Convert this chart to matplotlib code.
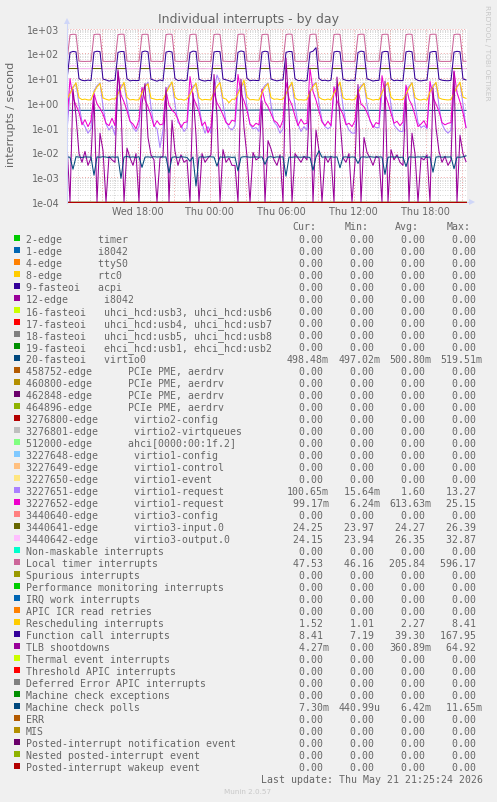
import numpy as np
import matplotlib
matplotlib.use("Agg")
import matplotlib.pyplot as plt
from matplotlib.lines import Line2D
from matplotlib.patches import Rectangle

# ---------------------------------------------------------------------------
# data: 15 minute samples, hours counted from Wed 00:00
# ---------------------------------------------------------------------------
t_start = 12.125
step = 0.25
hours = [t_start + step * k for k in range(134)]

local_timer = [
	47.9, 560, 585, 577, 48.3, 47.1, 46.8, 47.4,
	47.0, 571, 588, 582, 47.6, 46.6, 47.2, 46.9,
	46.9, 566, 590, 584, 48.0, 47.3, 46.5, 47.1,
	47.2, 574, 586, 579, 47.8, 46.9, 47.5, 46.7,
	46.8, 569, 592, 581, 48.1, 47.0, 46.6, 47.3,
	47.4, 563, 587, 583, 47.5, 46.8, 47.2, 46.9,
	47.1, 572, 589, 578, 47.9, 47.4, 46.7, 47.0,
	46.7, 575, 593, 585, 48.4, 46.9, 47.3, 47.2,
	47.3, 566, 584, 580, 47.7, 47.1, 46.16, 47.5,
	47.0, 570, 596.17, 582, 48.0, 46.8, 47.4, 46.9,
	47.5, 568, 591, 586, 48.2, 47.2, 46.9, 47.1,
	46.9, 573, 588, 579, 47.6, 47.0, 47.3, 46.6,
	47.2, 565, 590, 583, 48.1, 46.7, 47.1, 47.4,
	47.0, 571, 587, 581, 47.8, 47.3, 46.8, 47.0,
	46.8, 569, 592, 577, 47.9, 47.1, 47.4, 46.9,
	47.3, 574, 589, 584, 48.0, 46.9, 47.2, 47.1,
	47.1, 567, 591, 580, 47.8, 47.53,
]

function_call = [
	8.6, 108, 119, 114, 9.4, 8.1, 7.8, 8.3,
	7.9, 112, 121, 116, 9.1, 8.4, 7.6, 8.0,
	8.2, 109, 118, 117, 9.3, 7.7, 8.1, 7.9,
	8.0, 114, 123, 115, 9.0, 8.2, 7.5, 8.4,
	7.7, 111, 120, 113, 9.5, 7.9, 8.3, 7.8,
	8.3, 107, 122, 118, 8.9, 8.0, 7.6, 8.1,
	7.8, 113, 119, 116, 9.2, 8.5, 7.9, 7.19,
	8.1, 110, 124, 116, 9.7, 7.8, 8.2, 8.0,
	7.9, 112, 121, 115, 9.1, 8.3, 7.7, 8.2,
	8.4, 109, 118, 117, 9.4, 7.9, 8.1, 7.6,
	8.0, 110, 121, 167.95, 9.6, 7.9, 8.2, 7.7,
	8.2, 113, 120, 114, 9.0, 8.1, 7.8, 8.3,
	7.8, 108, 122, 116, 9.3, 8.4, 7.6, 8.0,
	8.1, 111, 119, 117, 9.2, 7.8, 8.2, 7.9,
	7.9, 114, 121, 115, 9.5, 8.0, 7.7, 8.1,
	8.3, 110, 118, 118, 9.1, 8.2, 7.9, 7.8,
	8.1, 112, 120, 115, 9.2, 8.41,
]

rescheduling = [
	1.38, 2.4, 4.1, 6.5, 1.62, 1.35, 1.42, 1.31,
	1.33, 2.7, 4.4, 6.1, 1.58, 1.40, 1.29, 1.45,
	1.41, 2.3, 3.9, 6.8, 1.66, 1.32, 1.37, 1.30,
	1.35, 2.6, 4.5, 5.9, 1.55, 1.44, 1.33, 1.39,
	1.29, 2.5, 4.2, 7.1, 1.71, 1.36, 1.41, 1.28,
	1.43, 2.2, 3.8, 6.3, 1.60, 1.30, 1.38, 1.34,
	1.32, 2.8, 4.6, 6.6, 1.57, 1.42, 1.01, 1.40,
	1.39, 2.4, 4.0, 8.41, 1.75, 1.33, 1.36, 1.31,
	1.30, 2.6, 4.3, 6.0, 1.63, 1.39, 1.44, 1.35,
	1.42, 2.3, 4.1, 6.9, 1.59, 1.31, 1.34, 1.29,
	1.36, 2.7, 4.4, 6.4, 1.68, 1.40, 1.32, 1.43,
	1.31, 2.5, 3.9, 7.0, 1.61, 1.35, 1.41, 1.30,
	1.40, 2.4, 4.2, 6.2, 1.56, 1.43, 1.29, 1.37,
	1.34, 2.6, 4.5, 6.7, 1.70, 1.32, 1.38, 1.33,
	1.38, 2.2, 4.0, 6.5, 1.64, 1.36, 1.30, 1.42,
	1.29, 2.8, 4.3, 6.8, 1.58, 1.41, 1.35, 1.31,
	1.36, 2.5, 4.3, 6.9, 1.70, 1.52,
]

virtio1_req_a = [
	0.07, 2.6, 4.4, 5.8, 0.85, 0.17, 0.11, 0.06,
	0.09, 3.1, 4.9, 6.4, 0.72, 0.14, 0.08, 0.12,
	0.05, 2.9, 5.2, 5.5, 0.95, 0.19, 0.10, 0.07,
	0.11, 3.4, 4.6, 6.9, 0.68, 0.12, 0.09, 0.0156,
	0.08, 2.7, 5.0, 6.1, 0.88, 0.16, 0.13, 0.07,
	0.10, 3.2, 4.7, 5.7, 0.76, 0.15, 0.06, 0.11,
	0.06, 2.8, 13.27, 6.6, 0.91, 0.18, 0.10, 0.08,
	0.12, 3.0, 4.8, 5.9, 0.70, 0.13, 0.09, 0.10,
	0.07, 3.3, 5.1, 6.3, 0.83, 0.17, 0.12, 0.06,
	0.09, 2.6, 4.5, 5.6, 0.79, 0.14, 0.07, 0.11,
	0.08, 3.1, 5.3, 6.8, 0.94, 0.20, 0.11, 0.09,
	0.11, 2.9, 4.6, 6.0, 0.74, 0.15, 0.08, 0.06,
	0.06, 3.5, 4.9, 6.2, 0.86, 0.18, 0.12, 0.10,
	0.10, 2.7, 5.0, 5.8, 0.81, 0.13, 0.09, 0.07,
	0.07, 3.0, 4.7, 6.5, 0.90, 0.16, 0.10, 0.12,
	0.09, 3.2, 5.2, 6.1, 0.77, 0.14, 0.08, 0.06,
	0.08, 2.8, 4.8, 5.9, 0.88, 0.10065,
]

virtio1_req_b = [
	0.16, 9.5, 1.6, 0.8, 0.42, 0.13, 0.21, 0.11,
	0.19, 2.4, 0.9, 0.6, 0.35, 0.15, 0.12, 0.24,
	0.12, 18.0, 2.1, 1.1, 0.48, 0.18, 0.14, 0.09,
	0.21, 4.2, 1.3, 0.7, 0.31, 0.11, 0.19, 0.13,
	0.14, 3.1, 0.8, 0.5, 0.39, 0.22, 0.10, 0.16,
	0.17, 11.5, 1.8, 0.9, 0.44, 0.12, 0.17, 0.0624,
	0.11, 2.7, 1.0, 0.6, 0.33, 0.16, 0.13, 0.20,
	0.18, 14.0, 2.4, 1.2, 0.51, 0.14, 0.11, 0.15,
	0.13, 3.6, 1.1, 0.7, 0.37, 0.19, 0.16, 0.10,
	0.20, 6.8, 1.5, 0.8, 0.29, 0.12, 0.22, 0.14,
	0.15, 25.15, 2.9, 1.3, 0.46, 0.17, 0.12, 0.18,
	0.12, 4.5, 1.2, 0.6, 0.34, 0.13, 0.15, 0.11,
	0.19, 3.3, 0.9, 0.7, 0.41, 0.20, 0.10, 0.16,
	0.14, 12.5, 2.2, 1.0, 0.38, 0.15, 0.18, 0.12,
	0.17, 5.2, 1.4, 0.8, 0.32, 0.11, 0.14, 0.19,
	0.10, 7.4, 1.7, 0.9, 0.45, 0.16, 0.13, 0.15,
	0.16, 19.5, 2.6, 1.1, 0.40, 0.09917,
]

tlb_shootdowns = [
	0.021, 0.0, 3.5, 0.3, 0.009, 0.004, 0.011, 0.003,
	0.006, 1.8, 0.0, 0.06, 0.012, 0.0, 0.007, 0.005,
	0.004, 22.0, 0.8, 0.0, 0.015, 0.006, 0.003, 0.009,
	0.0, 0.9, 6.0, 0.04, 0.008, 0.005, 0.0, 0.006,
	0.007, 4.2, 0.0, 0.2, 0.011, 0.003, 0.008, 0.004,
	0.005, 0.0, 2.5, 0.05, 0.0, 0.009, 0.004, 0.006,
	0.008, 14.0, 0.3, 0.0, 0.013, 0.004, 0.006, 0.003,
	0.003, 0.0, 9.0, 0.1, 0.007, 0.0, 0.010, 0.005,
	0.006, 1.2, 0.0, 0.03, 0.014, 0.005, 0.003, 0.008,
	0.0, 64.92, 0.5, 0.0, 0.009, 0.006, 0.004, 0.007,
	0.005, 3.0, 0.0, 0.08, 0.012, 0.0, 0.007, 0.004,
	0.007, 0.0, 11.0, 0.2, 0.006, 0.004, 0.009, 0.0,
	0.004, 5.5, 0.0, 0.04, 0.010, 0.006, 0.003, 0.007,
	0.006, 0.0, 7.5, 0.0, 0.013, 0.005, 0.008, 0.004,
	0.003, 2.2, 0.0, 0.06, 0.009, 0.0, 0.006, 0.005,
	0.008, 0.0, 4.0, 0.1, 0.011, 0.004, 0.007, 0.003,
	0.005, 18.0, 0.0, 0.05, 0.009, 0.00427,
]

mce_polls = [
	0.0066, 0.0064, 0.0021, 0.0067, 0.0065, 0.0063, 0.0066, 0.0065,
	0.0065, 0.0012, 0.0066, 0.0064, 0.0067, 0.0065, 0.0062, 0.0066,
	0.0064, 0.0066, 0.0009, 0.0065, 0.0068, 0.0064, 0.0066, 0.0063,
	0.0067, 0.0025, 0.0065, 0.0066, 0.0064, 0.0067, 0.0065, 0.0066,
	0.0065, 0.0066, 0.0015, 0.0064, 0.0066, 0.0063, 0.0067, 0.0065,
	0.0063, 0.0044, 0.0066, 0.00044, 0.0065, 0.0066, 0.0064, 0.0067,
	0.0066, 0.0065, 0.0028, 0.0066, 0.0064, 0.0065, 0.0066, 0.0063,
	0.0065, 0.0018, 0.0064, 0.0067, 0.0066, 0.0064, 0.0065, 0.0066,
	0.0064, 0.0066, 0.0033, 0.0065, 0.0067, 0.0063, 0.0066, 0.0065,
	0.0066, 0.0011, 0.0065, 0.0064, 0.0066, 0.0065, 0.0064, 0.0066,
	0.0065, 0.0063, 0.0019, 0.0066, 0.01165, 0.0064, 0.0066, 0.0065,
	0.0067, 0.0064, 0.0066, 0.0024, 0.0065, 0.0066, 0.0063, 0.0066,
	0.0064, 0.0036, 0.0065, 0.0066, 0.0064, 0.0067, 0.0065, 0.0064,
	0.0066, 0.0065, 0.0013, 0.0064, 0.0066, 0.0065, 0.0066, 0.0063,
	0.0065, 0.0027, 0.0066, 0.0065, 0.0064, 0.0066, 0.0065, 0.0067,
	0.0063, 0.0066, 0.0016, 0.0065, 0.0067, 0.0064, 0.0066, 0.0065,
	0.0066, 0.0022, 0.0065, 0.0064, 0.0066, 0.0073,
]

virtio3_output = [
	24.1, 30.5, 32.0, 31.2, 24.3, 24.1, 24.2, 24.1,
	24.2, 30.8, 31.7, 31.0, 24.2, 24.0, 24.1, 24.2,
	24.1, 30.2, 32.3, 31.4, 24.4, 24.1, 24.2, 24.0,
	24.2, 31.0, 31.9, 30.9, 24.3, 24.2, 24.1, 24.1,
	24.0, 30.6, 32.1, 31.3, 24.2, 24.1, 24.2, 24.2,
	24.1, 30.4, 31.8, 31.1, 24.3, 23.94, 24.1, 24.1,
	24.2, 30.9, 32.87, 31.5, 24.2, 24.1, 24.2, 24.0,
	24.1, 30.3, 32.0, 31.2, 24.4, 24.2, 24.1, 24.2,
	24.2, 30.7, 31.6, 30.8, 24.3, 24.1, 24.2, 24.1,
	24.1, 30.5, 32.2, 31.4, 24.2, 24.0, 24.1, 24.2,
	24.0, 31.1, 32.4, 31.0, 24.3, 24.2, 24.2, 24.1,
	24.2, 30.6, 31.9, 31.3, 24.2, 24.1, 24.1, 24.0,
	24.1, 30.8, 32.1, 31.1, 24.4, 24.2, 24.2, 24.2,
	24.2, 30.4, 31.7, 30.9, 24.3, 24.1, 24.1, 24.1,
	24.1, 30.9, 32.3, 31.5, 24.2, 24.0, 24.2, 24.2,
	24.0, 30.5, 32.0, 31.2, 24.3, 24.2, 24.1, 24.1,
	24.2, 30.7, 31.8, 31.0, 24.2, 24.15,
]

# nearly flat series, a few samples are enough
flat_hours = [12.125, 18.0, 24.0, 30.0, 36.0, 42.0, 45.375]
virtio0 = [0.499, 0.501, 0.498, 0.519, 0.500, 0.498, 0.49848]
virtio3_input = [24.3, 24.2, 24.25, 24.3, 24.2, 24.27, 24.25]

# legend rows of the munin graph
names = [
	"2-edge      timer", "1-edge      i8042", "4-edge      ttyS0",
	"8-edge      rtc0", "9-fasteoi   acpi", "12-edge      i8042",
	"16-fasteoi   uhci_hcd:usb3, uhci_hcd:usb6",
	"17-fasteoi   uhci_hcd:usb4, uhci_hcd:usb7",
	"18-fasteoi   uhci_hcd:usb5, uhci_hcd:usb8",
	"19-fasteoi   ehci_hcd:usb1, ehci_hcd:usb2",
	"20-fasteoi   virtio0",
	"458752-edge      PCIe PME, aerdrv", "460800-edge      PCIe PME, aerdrv",
	"462848-edge      PCIe PME, aerdrv", "464896-edge      PCIe PME, aerdrv",
	"3276800-edge      virtio2-config", "3276801-edge      virtio2-virtqueues",
	"512000-edge      ahci[0000:00:1f.2]",
	"3227648-edge      virtio1-config", "3227649-edge      virtio1-control",
	"3227650-edge      virtio1-event", "3227651-edge      virtio1-request",
	"3227652-edge      virtio1-request", "3440640-edge      virtio3-config",
	"3440641-edge      virtio3-input.0", "3440642-edge      virtio3-output.0",
	"Non-maskable interrupts", "Local timer interrupts", "Spurious interrupts",
	"Performance monitoring interrupts", "IRQ work interrupts",
	"APIC ICR read retries", "Rescheduling interrupts",
	"Function call interrupts", "TLB shootdowns", "Thermal event interrupts",
	"Threshold APIC interrupts", "Deferred Error APIC interrupts",
	"Machine check exceptions", "Machine check polls", "ERR", "MIS",
	"Posted-interrupt notification event", "Nested posted-interrupt event",
	"Posted-interrupt wakeup event",
]

# cur, min, avg, max for the non-zero rows (all others are 0)
stats = {
	"20-fasteoi   virtio0": (0.49848, 0.49702, 0.50080, 0.51951),
	"3227651-edge      virtio1-request": (0.10065, 0.01564, 1.60, 13.27),
	"3227652-edge      virtio1-request": (0.09917, 0.00624, 0.61363, 25.15),
	"3440641-edge      virtio3-input.0": (24.25, 23.97, 24.27, 26.39),
	"3440642-edge      virtio3-output.0": (24.15, 23.94, 26.35, 32.87),
	"Local timer interrupts": (47.53, 46.16, 205.84, 596.17),
	"Rescheduling interrupts": (1.52, 1.01, 2.27, 8.41),
	"Function call interrupts": (8.41, 7.19, 39.30, 167.95),
	"TLB shootdowns": (0.00427, 0.0, 0.36089, 64.92),
	"Machine check polls": (0.0073, 0.00044099, 0.00642, 0.01165),
}

# munin default palette, in legend order
colors = [
	"#00CC00", "#0066B3", "#FF8000", "#FFCC00", "#330099", "#990099",
	"#CCFF00", "#FF0000", "#808080", "#008F00", "#00487D", "#B35A00",
	"#B38F00", "#6B006B", "#8FB300", "#B30000", "#BEBEBE", "#80FF80",
	"#80C9FF", "#FFC080", "#FFE680", "#AA80FF", "#EE00CC", "#FF8080",
	"#666600", "#FFBFFF", "#00FFCC", "#CC6699", "#999900",
	"#00CC00", "#0066B3", "#FF8000", "#FFCC00", "#330099", "#990099",
	"#CCFF00", "#FF0000", "#808080", "#008F00", "#00487D", "#B35A00",
	"#B38F00", "#6B006B", "#8FB300", "#B30000",
]

series = {
	"20-fasteoi   virtio0": (flat_hours, virtio0),
	"3227651-edge      virtio1-request": (hours, virtio1_req_a),
	"3227652-edge      virtio1-request": (hours, virtio1_req_b),
	"3440641-edge      virtio3-input.0": (flat_hours, virtio3_input),
	"3440642-edge      virtio3-output.0": (hours, virtio3_output),
	"Local timer interrupts": (hours, local_timer),
	"Rescheduling interrupts": (hours, rescheduling),
	"Function call interrupts": (hours, function_call),
	"TLB shootdowns": (hours, tlb_shootdowns),
	"Machine check polls": (hours, mce_polls),
}

xtick_hours = [18, 24, 30, 36, 42]
xtick_labels = ["Wed 18:00", "Thu 00:00", "Thu 06:00", "Thu 12:00", "Thu 18:00"]

# ---------------------------------------------------------------------------
W, H = 497, 803
FONT = "#666666"
MONO = "DejaVu Sans Mono"

def fx(x):
	return x / W

def fy(y):
	return 1.0 - y / H

def si(v):
	if v == 0:
		return "%6.2f " % 0.0
	for f, p in ((1.0, " "), (1e-3, "m"), (1e-6, "u")):
		if abs(v) >= f:
			return "%6.2f%s" % (v / f, p)
	return "%6.2f " % v

fig = plt.figure(figsize=(W / 100, H / 100), dpi=100, facecolor="#F0F0F0")

left, right, top, bottom = 67, 467, 29.5, 203.5
ax = fig.add_axes([fx(left), fy(bottom), (right - left) / W, (bottom - top) / H])
ax.set_facecolor("white")
ax.set_yscale("log")
ymin, ymax = 1e-4, 1e3
# floor sits half a pixel above the bottom edge, as rrdtool draws it
ax.set_ylim(10 ** -4.02, ymax)
ax.set_xlim(t_start, t_start + (right - left) / 12.0)

# grid, rrdtool style (light dotted)
minor_c = (0.56, 0.56, 0.56, 0.5)
major_c = (0.87, 0.31, 0.31, 0.5)
dots = (0, (1, 2))
for e in range(-4, 3):
	for m in range(2, 10):
		ax.axhline(m * 10.0 ** e, color=minor_c, lw=0.6, ls=dots, zorder=0.5)
for e in range(-4, 4):
	ax.axhline(10.0 ** e, color=major_c, lw=0.7, ls=dots, zorder=0.6)
for h in range(13, 46):
	if h % 3 == 0:
		ax.axvline(h, color=major_c, lw=0.7, ls=dots, zorder=0.6)
	else:
		ax.axvline(h, color=minor_c, lw=0.6, ls=dots, zorder=0.5)

# series, in legend order (last drawn on top), zero values sit on the floor
for name, col in zip(names, colors):
	if name in series:
		xs, ys = series[name]
	else:
		xs, ys = hours, np.zeros(len(hours))
	ys = np.maximum(np.asarray(ys, dtype=float), ymin)
	ax.plot(xs, ys, color=col, lw=0.75, zorder=2)

ax.set_yticks([10.0 ** e for e in range(-4, 4)])
ax.set_yticklabels(["1e-04", "1e-03", "1e-02", "1e-01", "1e+00", "1e+01", "1e+02", "1e+03"])
ax.yaxis.set_minor_locator(matplotlib.ticker.NullLocator())
ax.set_xticks(xtick_hours)
ax.set_xticklabels(xtick_labels)
ax.tick_params(axis="y", length=0, pad=5.5, labelsize=6.9, labelcolor=FONT)
ax.tick_params(axis="x", length=0, pad=2.6, labelsize=6.9, labelcolor=FONT)
for s in ("top", "right", "bottom"):
	ax.spines[s].set_visible(False)
ax.spines["left"].set_color("#CFD6F8")
ax.spines["left"].set_linewidth(0.75)

# axis arrows
arrow_c = "#CFD6F8"
fig.add_artist(Line2D([fx(left), fx(left)], [fy(top), fy(22)], color=arrow_c, lw=0.75))
fig.add_artist(Line2D([fx(right), fx(472)], [fy(203), fy(203)], color=arrow_c, lw=0.75))
fig.add_artist(Line2D([fx(left)], [fy(22)], marker="^", ms=4, color=arrow_c, mew=0))
fig.add_artist(Line2D([fx(472)], [fy(203)], marker=">", ms=4, color=arrow_c, mew=0))

# titles
fig.text(fx(248.5), fy(19.5), "Individual interrupts - by day", ha="center", va="center",
	fontsize=9, color=FONT)
fig.text(fx(10.7), fy(114), "interrupts / second", rotation=90, ha="center", va="center",
	fontsize=8, color=FONT)
fig.text(fx(487.5), fy(53), "RRDTOOL / TOBI OETIKER", rotation=270, ha="center", va="center",
	fontsize=5.4, color="#C8C8C8")

# legend
lsize = 7.15
for x, h in zip((292.6, 344.3, 395.3, 446.3), ("Cur:", "Min:", "Avg:", "Max:")):
	fig.text(fx(x), fy(230.5), h, fontsize=lsize, family=MONO, color=FONT, va="baseline")

field_x = (286.6, 338.3, 389.3, 440.3)
for i, (name, col) in enumerate(zip(names, colors)):
	base = 242.7 + 12 * i
	fig.add_artist(Rectangle((fx(14), fy(base - 0.5)), 6 / W, 6 / H, transform=fig.transFigure,
		facecolor=col, edgecolor="none"))
	fig.text(fx(25.7), fy(base), name, fontsize=lsize, family=MONO, color=FONT, va="baseline")
	vals = stats.get(name, (0.0, 0.0, 0.0, 0.0))
	for x, v in zip(field_x, vals):
		fig.text(fx(x), fy(base), si(v), fontsize=lsize, family=MONO, color=FONT, va="baseline")

fig.text(fx(483), fy(782.7), "Last update: Thu May 21 21:25:24 2026", fontsize=lsize,
	family=MONO, color=FONT, va="baseline", ha="right")
fig.text(fx(247.7), fy(792), "Munin 2.0.57", fontsize=5.2, color="#C8C8C8",
	ha="center", va="center")

fig.savefig("out.png", dpi=100, facecolor=fig.get_facecolor())
